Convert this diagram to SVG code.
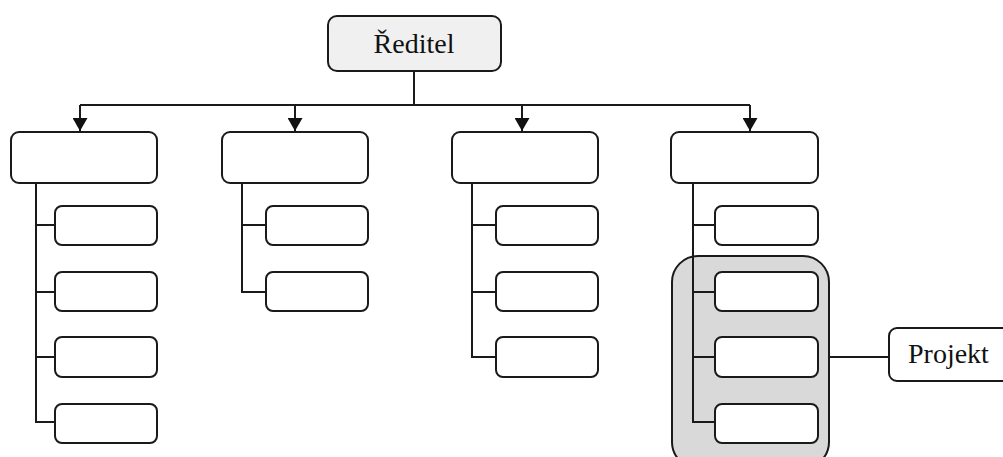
<svg xmlns="http://www.w3.org/2000/svg" width="1003" height="457" viewBox="0 0 1003 457">
  <style>
    .box { fill: #ffffff; stroke: #1a1a1a; stroke-width: 2; }
    .top { fill: #f0f0f0; stroke: #1a1a1a; stroke-width: 2; }
    .grp { fill: #d9d9d9; stroke: #1a1a1a; stroke-width: 2; }
    .ln { fill: none; stroke: #1a1a1a; stroke-width: 2; }
    .lbl { font-family: "Liberation Serif", "Times New Roman", serif; font-size: 28px; fill: #111111; }
  </style>
  <defs>
    <marker id="arrow" markerWidth="13" markerHeight="15" refX="13" refY="7.5" orient="auto" markerUnits="userSpaceOnUse">
      <path d="M0,0 L13,7.5 L0,15 Z" fill="#111111"/>
    </marker>
  </defs>
  <rect width="1003" height="457" fill="#ffffff"/>

  <!-- highlighted project group (behind its sub-units) -->
  <g id="project-group">
    <rect class="grp" x="672" y="256" width="157" height="212" rx="26"/>
  </g>

  <g id="connectors">
    <!-- director to departments -->
    <path class="ln" d="M414,71 V105"/>
    <path class="ln" d="M80,105 H750"/>
    <path class="ln" d="M80,105 V131" marker-end="url(#arrow)"/>
    <path class="ln" d="M295,105 V131" marker-end="url(#arrow)"/>
    <path class="ln" d="M522,105 V131" marker-end="url(#arrow)"/>
    <path class="ln" d="M750,105 V131" marker-end="url(#arrow)"/>
    <!-- department 1 -->
    <path class="ln" d="M36,183 V422 H55 M36,225 H55 M36,292 H55 M36,357 H55"/>
    <!-- department 2 -->
    <path class="ln" d="M242,183 V292 H266 M242,225 H266"/>
    <!-- department 3 -->
    <path class="ln" d="M472,183 V357 H496 M472,225 H496 M472,292 H496"/>
    <!-- department 4 -->
    <path class="ln" d="M693,183 V422 H715 M693,225 H715 M693,292 H715 M693,357 H715"/>
    <!-- group to project -->
    <path class="ln" d="M829,357 H889"/>
  </g>

  <g id="reditel">
    <rect class="top" x="328" y="16" width="173" height="55" rx="9"/>
    <text class="lbl" x="414" y="53" text-anchor="middle">Ředitel</text>
  </g>

  <g id="dept1">
    <rect class="box" x="11" y="132" width="146" height="51" rx="8"/>
    <rect class="box" x="55" y="206" width="102" height="39" rx="7"/>
    <rect class="box" x="55" y="272" width="102" height="39" rx="7"/>
    <rect class="box" x="55" y="337" width="102" height="40" rx="7"/>
    <rect class="box" x="55" y="404" width="102" height="39" rx="7"/>
  </g>

  <g id="dept2">
    <rect class="box" x="222" y="132" width="146" height="51" rx="8"/>
    <rect class="box" x="266" y="206" width="102" height="39" rx="7"/>
    <rect class="box" x="266" y="272" width="102" height="39" rx="7"/>
  </g>

  <g id="dept3">
    <rect class="box" x="452" y="132" width="146" height="51" rx="8"/>
    <rect class="box" x="496" y="206" width="102" height="39" rx="7"/>
    <rect class="box" x="496" y="272" width="102" height="39" rx="7"/>
    <rect class="box" x="496" y="337" width="102" height="40" rx="7"/>
  </g>

  <g id="dept4">
    <rect class="box" x="671" y="132" width="147" height="51" rx="8"/>
    <rect class="box" x="715" y="206" width="103" height="39" rx="7"/>
    <rect class="box" x="715" y="272" width="103" height="39" rx="7"/>
    <rect class="box" x="715" y="337" width="103" height="40" rx="7"/>
    <rect class="box" x="715" y="404" width="103" height="39" rx="7"/>
  </g>

  <g id="projekt">
    <rect class="box" x="889" y="328" width="125" height="53" rx="8"/>
    <text class="lbl" x="908" y="363">Projekt</text>
  </g>
</svg>
